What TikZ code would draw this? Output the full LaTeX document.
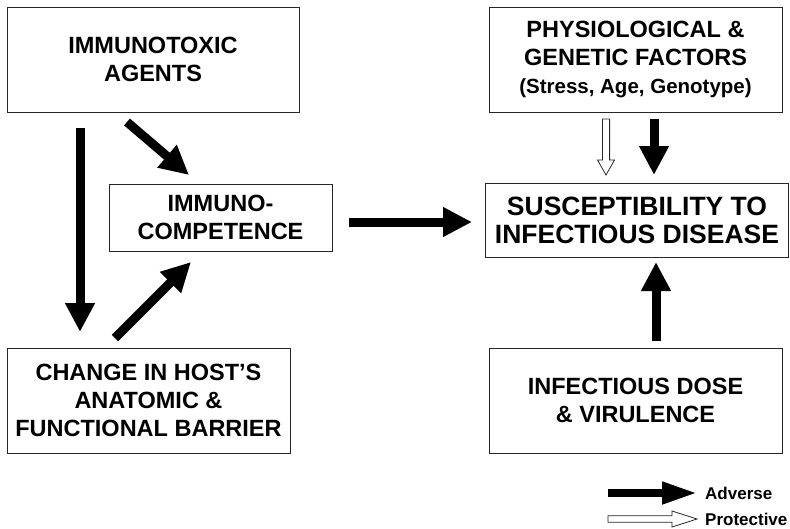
\documentclass[tikz,border=0pt]{standalone}
\usepackage{fontspec}
\setmainfont{Liberation Sans}
\usetikzlibrary{arrows.meta,calc}

% outlined block arrow: start, end, shaft half width, head half width, head length
\newcommand\openarrow[5]{%
  \coordinate (oa-h) at ($(#2)!#5!(#1)$);
  \draw[protective]
    ($(#1)!#3!90:(#2)$) -- ($(oa-h)!#3!90:(#2)$) -- ($(oa-h)!#4!90:(#2)$) --
    (#2) --
    ($(oa-h)!#4!-90:(#2)$) -- ($(oa-h)!#3!-90:(#2)$) -- ($(#1)!#3!-90:(#2)$) -- cycle;
}

\begin{document}
\begin{tikzpicture}[x=1pt,y=-1pt,
  box/.style={draw=black!85, line width=1pt, fill=white, align=center,
    inner sep=0pt, font=\bfseries\fontsize{23.5}{28}\selectfont},
  adverse/.style={line width=9pt, -{Triangle[length=29pt,width=28pt]}},
  legadverse/.style={line width=7.5pt, -{Triangle[length=35pt,width=21pt]}},
  protective/.style={draw=black!85, line width=0.8pt, fill=white, line join=miter},
  legtext/.style={anchor=west, inner sep=0pt, font=\bfseries\fontsize{17}{20}\selectfont}
]
\useasboundingbox (0,0) rectangle (790,528);

% boxes
\node[box, minimum width=292pt, minimum height=105pt] (tox) at (153,59.5) {IMMUNOTOXIC\\AGENTS};
\node[box, minimum width=223pt, minimum height=67pt] (imm) at (220.5,217.5) {IMMUNO-\\COMPETENCE};
\node[box, minimum width=283pt, minimum height=105pt] (chg) at (148.5,400.5) {CHANGE IN HOST'S\\ANATOMIC \&\\FUNCTIONAL BARRIER};
\node[box, minimum width=293pt, minimum height=105pt] (phy) at (635.5,59.5)
  {PHYSIOLOGICAL \&\\GENETIC FACTORS\\{\fontsize{20.5}{28}\selectfont(Stress, Age, Genotype)}};
\node[box, minimum width=303pt, minimum height=74pt, font=\bfseries\fontsize{26.5}{28}\selectfont] (sus) at (637,220)
  {SUSCEPTIBILITY TO\\INFECTIOUS DISEASE};
\node[box, minimum width=293pt, minimum height=105pt] (inf) at (635.5,400.5) {INFECTIOUS DOSE\\\& VIRULENCE};

% arrow end points
\coordinate (toxdown) at (80,128);
\coordinate (chgtop)  at (80,332);
\coordinate (toxdiag) at (127,122);
\coordinate (immtop)  at (189,175);
\coordinate (chgdiag) at (115,338);
\coordinate (immbot)  at (191,262);
\coordinate (immright) at (349,222);
\coordinate (susleft) at (472,222);
\coordinate (phyA) at (654,119);
\coordinate (susA) at (654,175);
\coordinate (phyP) at (606,119);
\coordinate (susP) at (606,175);
\coordinate (inftop) at (656,341);
\coordinate (susbot) at (656,262);

% adverse effects
\draw[adverse] (toxdown) -- (chgtop);
\draw[adverse] (toxdiag) -- (immtop);
\draw[adverse] (chgdiag) -- (immbot);
\draw[adverse] (immright) -- (susleft);
\draw[adverse] (phyA) -- (susA);
\draw[adverse] (inftop) -- (susbot);

% protective effect
\openarrow{phyP}{susP}{3.6pt}{8.5pt}{15pt}

% legend
\coordinate (la1) at (608,493);
\coordinate (la2) at (697,493);
\coordinate (lp1) at (608,519);
\coordinate (lp2) at (697,519);
\draw[legadverse] (la1) -- (la2);
\openarrow{lp1}{lp2}{3.2pt}{8pt}{25pt}
\node[legtext] (ladv) at (705,493) {Adverse};
\node[legtext] (lpro) at (705,519) {Protective};
\end{tikzpicture}
\end{document}
